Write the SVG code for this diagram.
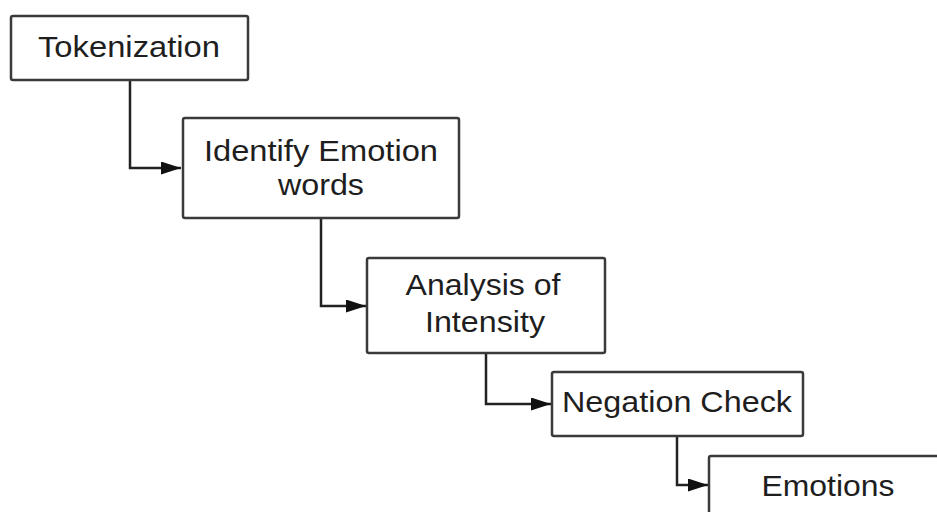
<svg xmlns="http://www.w3.org/2000/svg" width="937" height="512" viewBox="0 0 937 512">
<defs>
<style>
.box{fill:#fff;stroke:#3a3a3a;stroke-width:2.5}
.lbl{font-family:"Liberation Sans",Arial,sans-serif;font-size:30px;fill:#1e1e1e;text-anchor:middle}
.conn{fill:none;stroke:#222;stroke-width:2.5}
</style>
<marker id="arr" viewBox="0 0 10 10" refX="10" refY="5" markerUnits="userSpaceOnUse" markerWidth="20" markerHeight="13" preserveAspectRatio="none" orient="auto">
<path d="M0,0 L10,5 L0,10 Z" fill="#111"/>
</marker>
</defs>
<rect width="937" height="512" fill="#fff"/>
<g id="connectors">
<path class="conn" d="M130,80 V168 H181" marker-end="url(#arr)"/>
<path class="conn" d="M321,218 V306 H366" marker-end="url(#arr)"/>
<path class="conn" d="M486,353 V404 H551" marker-end="url(#arr)"/>
<path class="conn" d="M677,436 V485 H708" marker-end="url(#arr)"/>
</g>
<g id="tokenization">
<rect class="box" x="11" y="16" width="237" height="64" rx="2"/>
<text class="lbl" x="129" y="57" textLength="182" lengthAdjust="spacingAndGlyphs">Tokenization</text>
</g>
<g id="identify">
<rect class="box" x="183" y="118" width="276" height="100" rx="2"/>
<text class="lbl" x="321" y="161" textLength="234" lengthAdjust="spacingAndGlyphs">Identify Emotion</text>
<text class="lbl" x="321" y="195" textLength="86" lengthAdjust="spacingAndGlyphs">words</text>
</g>
<g id="analysis">
<rect class="box" x="367" y="258" width="238" height="95" rx="2"/>
<text class="lbl" x="483" y="295" textLength="155" lengthAdjust="spacingAndGlyphs">Analysis of</text>
<text class="lbl" x="485" y="332" textLength="120" lengthAdjust="spacingAndGlyphs">Intensity</text>
</g>
<g id="negation">
<rect class="box" x="552" y="372" width="251" height="64" rx="2"/>
<text class="lbl" x="677" y="412" textLength="230" lengthAdjust="spacingAndGlyphs">Negation Check</text>
</g>
<g id="emotions">
<rect class="box" x="709" y="456" width="260" height="80" rx="2"/>
<text class="lbl" x="828" y="496" textLength="133" lengthAdjust="spacingAndGlyphs">Emotions</text>
</g>
</svg>
